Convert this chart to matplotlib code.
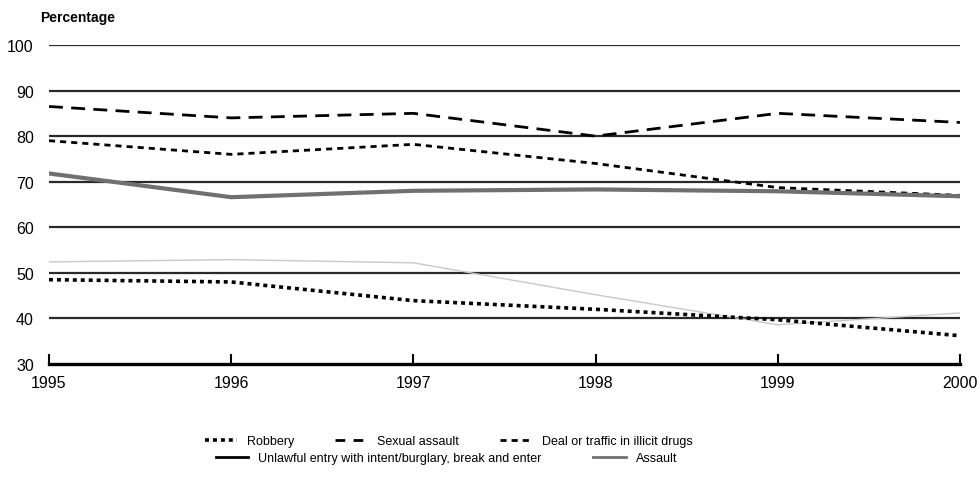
import numpy as np
import matplotlib.pyplot as plt
from matplotlib.lines import Line2D

plt.rcParams['font.family'] = ['Liberation Sans', 'DejaVu Sans']

years = [1995, 1996, 1997, 1998, 1999, 2000]
robbery = [48.5, 48.0, 43.9, 42.0, 39.7, 36.2]
sexual_assault = [86.5, 84.0, 85.0, 80.0, 85.0, 83.0]
drugs = [79.0, 76.0, 78.2, 74.0, 68.7, 67.0]
unlawful_entry = [52.4, 52.9, 52.2, 45.2, 38.6, 41.2]
assault = [71.8, 66.6, 68.0, 68.3, 67.9, 66.8]

fig = plt.figure(figsize=(9.78, 4.81), dpi=100)
ax = fig.add_axes([0.0501, 0.2412, 0.9315, 0.6632])

for y in range(40, 101, 10):
    ax.axhline(y, color='#2a2a2a', lw=1.6, zorder=1)

ax.plot(years, unlawful_entry, color='#c8c8c8', lw=1.0, zorder=2)
ax.plot(years, robbery, color='black', lw=2.6, ls=(0, (1.1, 1.1)), zorder=3)
ax.plot(years, sexual_assault, color='black', lw=2.0, ls=(0, (5, 3)), zorder=3)
ax.plot(years, drugs, color='black', lw=2.0, ls=(0, (2.2, 1.8)), zorder=3)
ax.plot(years, assault, color='#707070', lw=3.0, zorder=4)

ax.set_xlim(1995, 2000)
ax.set_ylim(30, 100)
ax.set_yticks(range(30, 101, 10))
ax.set_xticks(years)
for s in ['top', 'right', 'left']:
    ax.spines[s].set_visible(False)
ax.spines['bottom'].set_linewidth(2.4)
ax.spines['bottom'].set_color('black')
ax.tick_params(axis='x', direction='in', length=7, width=1.5, pad=8, labelsize=11.5)
ax.tick_params(axis='y', length=0, pad=11, labelsize=11.5)

fig.text(0.041, 0.963, 'Percentage', fontsize=10, fontweight='bold', va='center', ha='left')

# legend entries: (handle, label, x of handle start, y) in pixels
entries = [
    (Line2D([], [], color='black', lw=2.6, ls=(0, (1.1, 1.1))), 'Robbery', 205, 442),
    (Line2D([], [], color='black', lw=2.0, ls=(0, (3.5, 3))), 'Sexual assault', 335, 442),
    (Line2D([], [], color='black', lw=2.0, ls=(0, (2.2, 1.8))), 'Deal or traffic in illicit drugs', 500, 442),
    (Line2D([], [], color='black', lw=2.0), 'Unlawful entry with intent/burglary, break and enter', 216, 459),
    (Line2D([], [], color='#707070', lw=2.0), 'Assault', 593, 459),
]
for h, lab, px, py in entries:
    fig.legend([h], [lab], loc='center left', bbox_to_anchor=(px / 978, 1 - py / 481),
               frameon=False, fontsize=9, handlelength=2.6, handletextpad=0.8,
               borderpad=0, borderaxespad=0)

fig.savefig('out.png', dpi=100)
